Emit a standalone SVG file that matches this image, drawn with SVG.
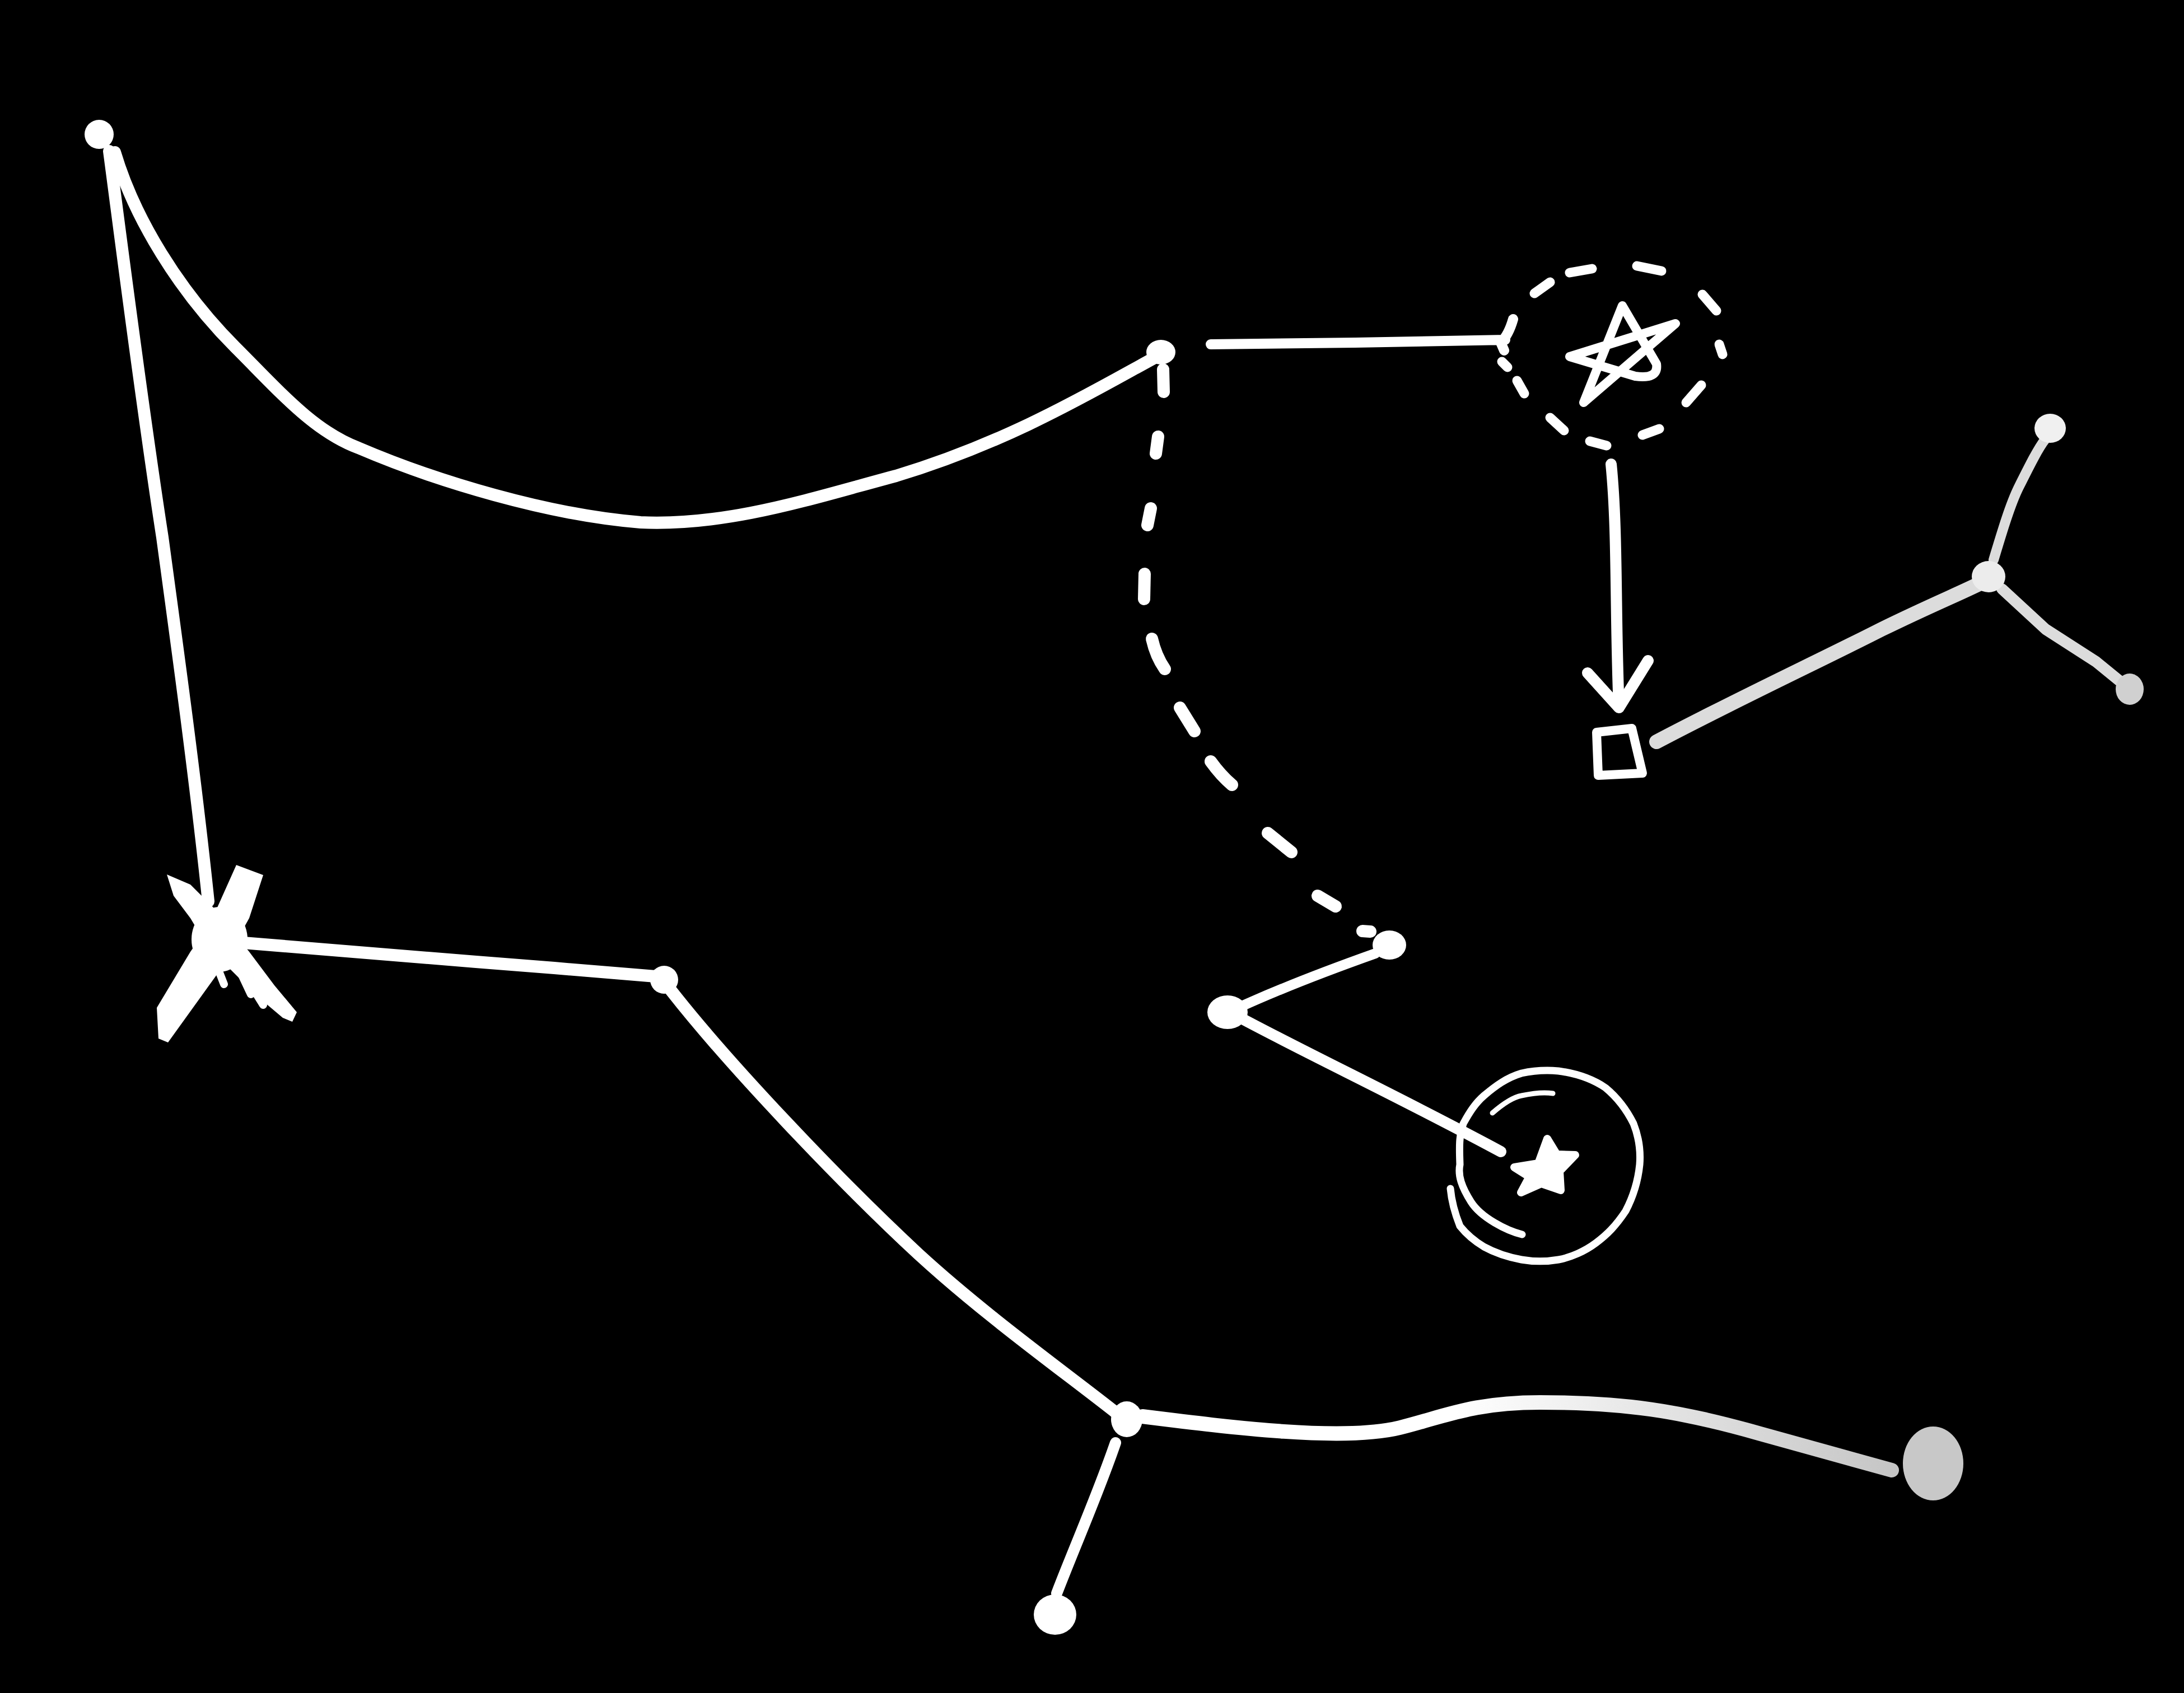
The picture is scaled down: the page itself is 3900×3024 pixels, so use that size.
<svg xmlns="http://www.w3.org/2000/svg" width="3900" height="3024" viewBox="0 0 3900 3024">
<style>
.ln{fill:none;stroke:#fff;stroke-linecap:round;stroke-linejoin:round}
.gl{fill:none;stroke:#dcdcdc;stroke-linecap:round;stroke-linejoin:round}
.dash{fill:none;stroke:#fff;stroke-linecap:round;stroke-width:22}
.cd{fill:none;stroke:#fff;stroke-linecap:round;stroke-width:17}
.dot{fill:#fff}
</style>
<defs>
<linearGradient id="fade" gradientUnits="userSpaceOnUse" x1="2600" y1="0" x2="3400" y2="0">
<stop offset="0" stop-color="#fff"/><stop offset="1" stop-color="#c4c4c4"/>
</linearGradient>
</defs>
<rect width="3900" height="3024" fill="#000"/>
<g id="connectors">
<path class="ln" stroke-width="22" d="M195,270 C215,420 250,700 290,960 C320,1180 350,1400 372,1610"/>
<path class="ln" stroke-width="22" d="M205,272 C240,390 320,520 420,620 C500,700 560,770 640,800 C780,860 980,920 1144,933 C1300,940 1450,890 1600,850 C1800,790 1950,700 2060,640"/>
<path class="ln" stroke-width="18" d="M2162,615 L2420,612 L2688,607 M2680,612 Q2694,598 2702,570 M2680,612 L2686,626"/>
<path class="dash" d="M2077,660 L2078,700"/>
<path class="dash" d="M2068,780 L2064,810"/>
<path class="dash" d="M2055,908 L2049,938"/>
<path class="dash" d="M2044,1025 L2043,1070"/>
<path class="dash" d="M2057,1141 Q2064,1172 2080,1195"/>
<path class="dash" d="M2107,1264 L2133,1306"/>
<path class="dash" d="M2162,1360 Q2180,1385 2200,1402"/>
<path class="dash" d="M2264,1488 L2306,1522"/>
<path class="dash" d="M2353,1600 L2385,1619"/>
<path class="dash" stroke-width="12" d="M2433,1663 L2447,1664"/>
<path class="ln" stroke-width="18" d="M2456,1703 C2380,1730 2300,1760 2220,1796"/>
<path class="ln" stroke-width="20" d="M2215,1818 C2350,1890 2500,1960 2680,2057"/>
<path class="ln" stroke-width="20" d="M2877,829 C2889,950 2884,1100 2891,1262"/>
<path class="ln" stroke-width="20" d="M2835,1202 L2891,1264 L2943,1180"/>
<path class="gl" stroke-width="26" d="M2958,1325 C3100,1250 3250,1180 3360,1124 C3450,1080 3500,1060 3540,1040"/>
<path class="gl" stroke-width="18" d="M3560,1000 C3575,950 3590,900 3605,870 C3625,830 3640,800 3652,785"/>
<path class="gl" stroke-width="20" d="M3575,1052 L3653,1124 L3743,1182 L3792,1222"/>
<path class="ln" stroke-width="22" d="M435,1684 C560,1694 700,1706 850,1718 C950,1726 1080,1736 1170,1744"/>
<path class="ln" stroke-width="22" d="M1195,1765 C1300,1900 1500,2110 1640,2240 C1760,2350 1900,2450 1995,2525"/>
<path class="ln" stroke-width="20" d="M1992,2577 C1960,2670 1920,2760 1887,2846"/>
<path fill="none" stroke="url(#fade)" stroke-width="26" stroke-linecap="round" stroke-linejoin="round" d="M2040,2530 C2200,2550 2400,2575 2500,2550 C2580,2530 2630,2505 2750,2505 C2900,2505 3000,2520 3140,2560 C3250,2590 3320,2610 3378,2626"/>
</g>
<g id="node-topleft"><circle class="dot" cx="177" cy="240" r="26"/></g>
<g id="node-top"><ellipse class="dot" cx="2073" cy="629" rx="26" ry="22"/></g>
<g id="node-dashed-star">
<path class="cd" d="M2803,487 L2843,480"/>
<path class="cd" d="M2923,475 L2967,484"/>
<path class="cd" d="M2740,524 L2768,504"/>
<path class="cd" d="M3040,526 L3065,555"/>
<path class="cd" d="M3070,615 L3076,633"/>
<path class="cd" d="M2682,646 L2692,656"/>
<path class="cd" d="M2709,680 L2722,703"/>
<path class="cd" d="M3038,688 L3011,719"/>
<path class="cd" d="M2768,746 L2793,769"/>
<path class="cd" d="M2933,777 L2963,766"/>
<path class="cd" d="M2839,788 L2869,796"/>
<path class="ln" stroke-width="16" d="M2828,719 L2897,546 L2958,650 Q2962,678 2920,672 L2803,637 L2992,578 L2828,719"/>
</g>
<g id="node-square"><path class="ln" stroke-width="16" d="M2851,1308 L2914,1301 L2933,1381 L2854,1385 Z"/></g>
<g id="node-hub"><ellipse cx="3551" cy="1030" rx="30" ry="28" fill="#ececec"/></g>
<g id="node-hub-top"><ellipse cx="3661" cy="765" rx="28" ry="26" fill="#f0f0f0"/></g>
<g id="node-hub-right"><ellipse cx="3803" cy="1231" rx="25" ry="28" fill="#d0d0d0"/></g>
<g id="node-z1"><ellipse class="dot" cx="2481" cy="1688" rx="30" ry="26"/></g>
<g id="node-z2"><ellipse class="dot" cx="2192" cy="1808" rx="36" ry="30"/></g>
<g id="node-circle-star">
<path class="ln" stroke-width="13" d="M2718,2205 C2690,2198 2645,2175 2627,2147 C2610,2120 2603,2100 2607,2080 C2606,2050 2605,2030 2613,2007 C2625,1985 2635,1970 2650,1957 C2670,1940 2690,1925 2717,1917 C2740,1912 2760,1911 2783,1913 C2820,1918 2845,1928 2867,1943 C2890,1962 2905,1983 2917,2007 C2926,2030 2930,2055 2928,2080 C2925,2110 2915,2140 2903,2163 C2885,2190 2870,2205 2850,2220 C2830,2235 2805,2246 2783,2250 C2760,2254 2740,2254 2717,2250 C2690,2245 2670,2238 2650,2227 C2630,2215 2615,2200 2607,2190 C2597,2165 2592,2145 2590,2123"/>
<path class="ln" stroke-width="9" d="M2665,1988 C2680,1975 2700,1960 2717,1957 C2740,1952 2760,1951 2773,1953"/>
<path class="dot" stroke="#fff" stroke-width="14" stroke-linejoin="round" d="M2763,2034 L2780,2062 L2813,2063 L2785,2092 L2787,2126 L2752,2114 L2716,2130 L2731,2102 L2704,2085 L2747,2078 Z"/>
</g>
<g id="node-x">
<path class="dot" d="M422,1545 L470,1563 L445,1640 L395,1730 L300,1862 L283,1855 L280,1800 L340,1700 L375,1650 Z"/>
<path class="dot" d="M298,1562 L340,1580 L380,1620 L445,1700 L490,1760 L530,1808 L522,1825 L505,1818 L460,1780 L420,1740 L370,1690 L340,1640 L310,1600 Z"/>
<ellipse class="dot" cx="392" cy="1678" rx="50" ry="58"/>
<path class="ln" stroke-width="14" d="M386,1722 L400,1758 M432,1742 L448,1776 M445,1755 L470,1795"/>
</g>
<g id="node-mid"><circle class="dot" cx="1186" cy="1750" r="25"/></g>
<g id="node-junction"><ellipse class="dot" cx="2012" cy="2535" rx="28" ry="32"/></g>
<g id="node-bottom"><ellipse class="dot" cx="1884" cy="2884" rx="38" ry="36"/></g>
<g id="node-gray"><ellipse cx="3452" cy="2614" rx="54" ry="66" fill="#c8c8c8"/></g>
</svg>
